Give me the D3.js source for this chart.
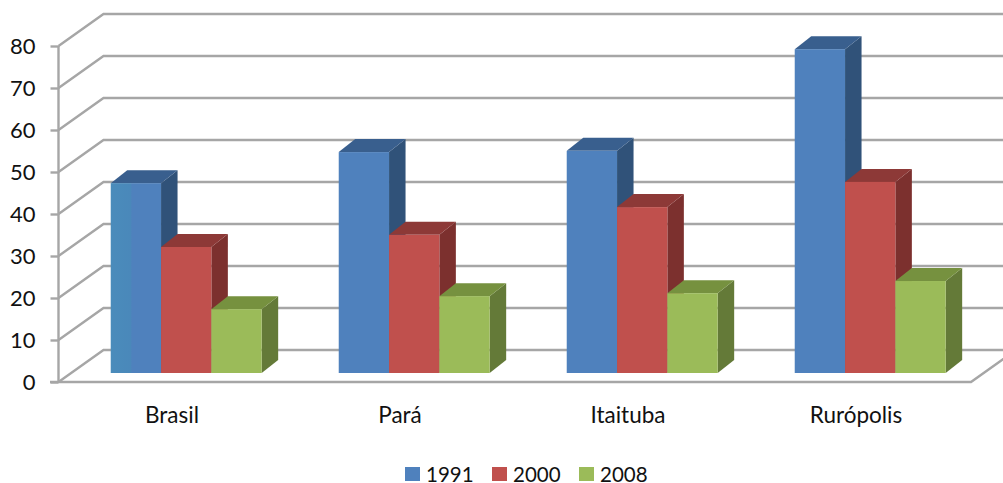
<!DOCTYPE html>
<html><head><meta charset="utf-8">
<script src="https://cdn.jsdelivr.net/npm/d3@7"></script>
<style>html,body{margin:0;padding:0;background:#fff}svg{display:block}text{font-family:Lato,"Open Sans",sans-serif;fill:#111}</style>
</head><body><svg id="c" width="1003" height="483"></svg>
<script>
const categories=["Brasil","Pará","Itaituba","Rurópolis"];
const seriesNames=["1991","2000","2008"];
const v1991=[45.2,52.6,52.9,77.1];
const v2000=[30,32.9,39.5,45.5];
const v2008=[15.2,18.3,19,21.9];
const tickValues=[0,10,20,30,40,50,60,70,80];
const seriesValues=[v1991,v2000,v2008];
const frontCol=["#4f81bd","#c0504d","#9bbb59"], topCol=["#395f8e","#8d3937","#76913f"], sideCol=["#305279","#7c302e","#647a38"];
const grid="#a6a6a6";
const svg=d3.select("#c");
const y=d3.scaleLinear().domain([0,80]).range([382,46]);
const x0=d3.scaleBand().domain(categories).range([58,970]).paddingInner(.338).paddingOuter(.169);
const x1=d3.scaleBand().domain(seriesNames).range([0,x0.bandwidth()]);
const wall={dx:45,dy:-32}, barOff={dx:14.2,dy:-9}, depth={dx:16.5,dy:-13};
const line=d3.line();
// gridlines
svg.append("g").selectAll("path").data(tickValues).join("path")
 .attr("d",t=>line([[58.5,y(t)],[58.5+wall.dx,y(t)+wall.dy],[1003,y(t)+wall.dy]]))
 .attr("fill","none").attr("stroke",grid).attr("stroke-width",2.4);
// floor
svg.append("path").attr("d",line([[50,y(0)],[971,y(0)],[971+wall.dx,y(0)+wall.dy]])).attr("fill","none").attr("stroke",grid).attr("stroke-width",2.4);
// axis
const ax=svg.append("g").attr("transform","translate(58.5,0)").call(d3.axisLeft(y).tickValues(tickValues).tickSize(8).tickPadding(15).tickFormat(d3.format("d")));
ax.selectAll("path,line").attr("stroke",grid).attr("stroke-width",2.4);
ax.select(".domain").attr("d",line([[0,y(80)],[0,y(0)]]));
ax.selectAll("text").attr("font-size",22).attr("dy","0.36em").style("font-family","Lato,sans-serif").attr("fill","#111");
// gradient tint on the first bar
const defs=svg.append("defs");
const g=defs.append("linearGradient").attr("id","tint");
g.append("stop").attr("offset","0").attr("stop-color","#4a8cbb");
g.append("stop").attr("offset","0.4").attr("stop-color","#4a88ba");
g.append("stop").attr("offset","0.42").attr("stop-color",frontCol[0]);
// bars
const bars=svg.append("g");
categories.forEach((c,i)=>{
 seriesNames.forEach((s,k)=>{
  const v=seriesValues[k][i];
  const l=x0(c)+x1(s)+barOff.dx, r=l+x1.bandwidth();
  const top=y(v)+barOff.dy, bot=y(0)+barOff.dy;
  const d=depth;
  bars.append("path").attr("d",line([[r,top],[r+d.dx,top+d.dy],[r+d.dx,bot+d.dy],[r,bot]])+"Z").attr("fill",sideCol[k]);
  bars.append("path").attr("d",line([[l,top],[l+d.dx,top+d.dy],[r+d.dx,top+d.dy],[r,top]])+"Z").attr("fill",topCol[k]);
  bars.append("rect").attr("x",l).attr("y",top).attr("width",r-l).attr("height",bot-top)
   .attr("fill",(i===0&&k===0)?"url(#tint)":frontCol[k]);
 });
});
// category labels
svg.append("g").selectAll("text").data(categories).join("text")
 .attr("x",c=>x0(c)+x0.bandwidth()/2).attr("y",423).attr("text-anchor","middle").attr("font-size",22.5).text(c=>c);
// legend
const legX=d3.scalePoint().domain(seriesNames).range([405,579]);
const lg=svg.append("g").selectAll("g").data(seriesNames).join("g").attr("transform",s=>`translate(${legX(s)},467)`);
lg.append("rect").attr("width",15).attr("height",14).attr("fill",(s,i)=>frontCol[i]);
lg.append("text").attr("x",21).attr("y",14.5).attr("font-size",20.5).text(s=>s);
</script></body></html>
